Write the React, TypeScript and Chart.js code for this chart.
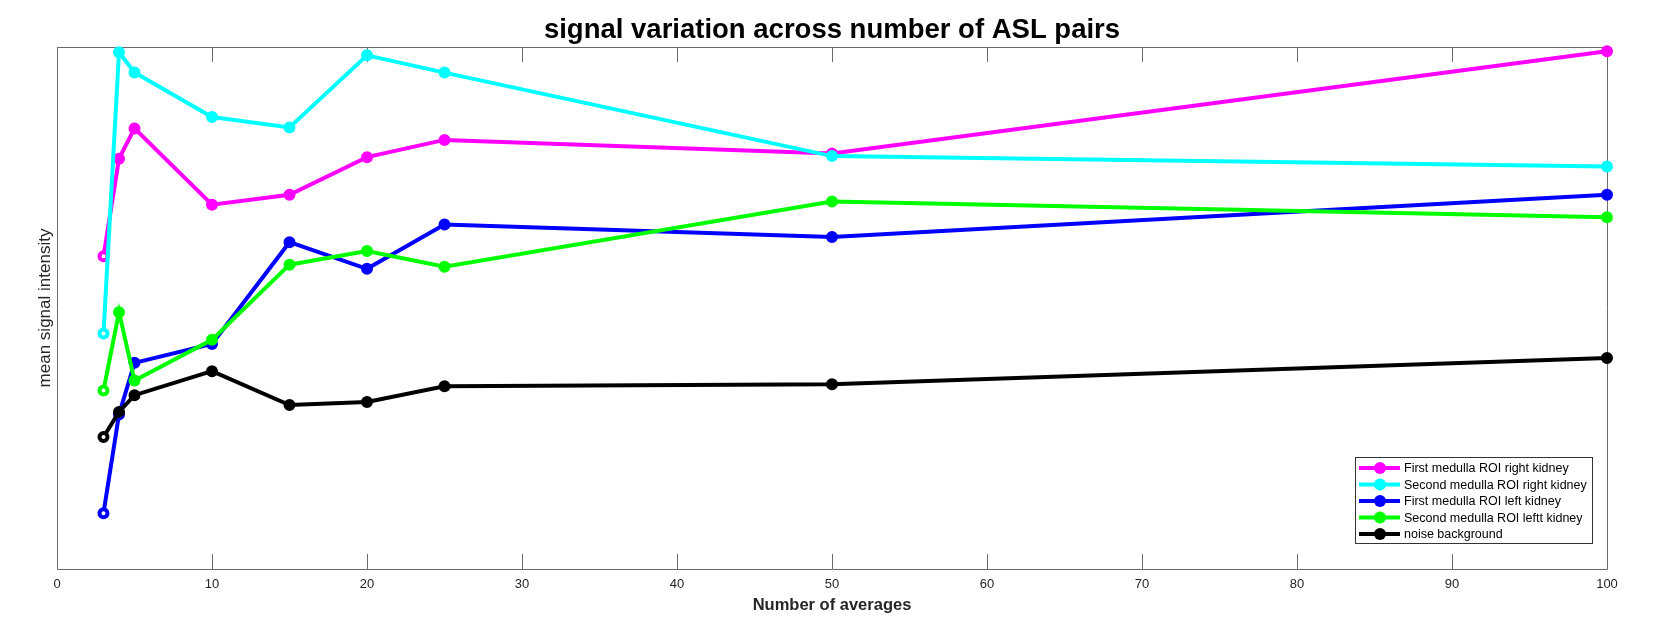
import { useEffect, useRef } from "react";
import { Chart, registerables } from "chart.js";

Chart.register(...registerables);

// ---- data ----
const averages = [3, 4, 5, 10, 15, 20, 25, 50, 100];
const firstMedullaRight = [59.9, 78.6, 84.4, 69.8, 71.7, 78.9, 82.2, 79.6, 99.2];
const secondMedullaRight = [45.1, 99.0, 95.1, 86.6, 84.6, 98.4, 95.1, 79.1, 77.1];
const firstMedullaLeft = [10.7, 29.6, 39.5, 43.1, 62.6, 57.5, 66.0, 63.6, 71.7];
const secondMedullaLeft = [34.2, 49.2, 36.1, 43.9, 58.3, 60.9, 57.9, 70.4, 67.4];
const noiseBackground = [25.3, 30.1, 33.3, 37.9, 31.4, 32.0, 35.0, 35.4, 40.4];
const seriesNames = [
  "First medulla ROI right kidney",
  "Second medulla ROI right kidney",
  "First medulla ROI left kidney",
  "Second medulla ROI leftt kidney",
  "noise background",
];
const seriesColors = ["#ff00ff", "#00ffff", "#0000ff", "#00ff00", "#000000"];
const xTicks = [0, 10, 20, 30, 40, 50, 60, 70, 80, 90, 100];

const chartTitle = "signal variation across number of ASL pairs";
const xTitle = "Number of averages";
const yTitle = "mean signal intensity";

const FONT = "'Liberation Sans', Arial, Helvetica, sans-serif";

const decorPlugin = {
  id: "decor",
  beforeDatasetsDraw(chart: any) {
    const { ctx, chartArea } = chart;
    const { left, right, top, bottom } = chartArea;
    const xs = chart.scales.x;
    ctx.save();
    ctx.strokeStyle = "#6a6a6a";
    ctx.lineWidth = 1;
    ctx.beginPath();
    ctx.rect(left + 0.5, top + 0.5, right - left, bottom - top);
    ctx.stroke();
    ctx.beginPath();
    for (const t of xTicks) {
      const px = Math.round(xs.getPixelForValue(t)) + 0.5;
      ctx.moveTo(px, bottom);
      ctx.lineTo(px, bottom - 15);
      ctx.moveTo(px, top);
      ctx.lineTo(px, top + 15);
    }
    ctx.stroke();
    ctx.restore();
  },
  afterDraw(chart: any) {
    const { ctx, chartArea } = chart;
    const { left, right, top, bottom } = chartArea;
    const cx = (left + right) / 2;
    ctx.save();
    // title
    ctx.fillStyle = "#000";
    ctx.textAlign = "center";
    ctx.textBaseline = "alphabetic";
    ctx.font = `bold 27.5px ${FONT}`;
    ctx.fillText(chartTitle, cx, 38);
    // x title
    ctx.font = `bold 16.5px ${FONT}`;
    ctx.fillStyle = "#262626";
    ctx.textBaseline = "middle";
    ctx.fillText(xTitle, cx, 605);
    // y title
    ctx.save();
    ctx.translate(45, (top + bottom) / 2);
    ctx.rotate(-Math.PI / 2);
    ctx.font = `17px ${FONT}`;
    ctx.fillText(yTitle, 0, 0);
    ctx.restore();
    // legend
    const bx = 1355, by = 457, bw = 237, bh = 86;
    ctx.fillStyle = "#fff";
    ctx.fillRect(bx, by, bw, bh);
    ctx.strokeStyle = "#333";
    ctx.lineWidth = 1;
    ctx.strokeRect(bx + 0.5, by + 0.5, bw, bh);
    ctx.font = `12.5px ${FONT}`;
    ctx.textAlign = "left";
    ctx.textBaseline = "middle";
    seriesNames.forEach((name, i) => {
      const y = by + 11 + i * 16.5;
      ctx.strokeStyle = seriesColors[i];
      ctx.lineWidth = 4;
      ctx.beginPath();
      ctx.moveTo(bx + 4, y);
      ctx.lineTo(bx + 45, y);
      ctx.stroke();
      ctx.fillStyle = seriesColors[i];
      ctx.beginPath();
      ctx.arc(bx + 25, y, 6, 0, Math.PI * 2);
      ctx.fill();
      ctx.fillStyle = "#000";
      ctx.fillText(name, bx + 49, y + 1);
    });
    ctx.restore();
  },
};

export default function App() {
  const canvasRef = useRef<HTMLCanvasElement | null>(null);

  useEffect(() => {
    document.body.style.margin = "0";
    const canvas = canvasRef.current;
    if (!canvas) return;
    const seriesValues = [
      firstMedullaRight,
      secondMedullaRight,
      firstMedullaLeft,
      secondMedullaLeft,
      noiseBackground,
    ];
    const datasets = seriesValues.map((vals, i) => ({
      label: seriesNames[i],
      data: averages.map((x, j) => ({ x, y: vals[j] })),
      borderColor: seriesColors[i],
      backgroundColor: seriesColors[i],
      pointBackgroundColor: averages.map((_, j) => (j === 0 ? "#ffffff" : seriesColors[i])),
      pointBorderColor: seriesColors[i],
      pointRadius: 4,
      pointBorderWidth: 4,
      borderWidth: 4,
      tension: 0,
      clip: false as any,
      order: seriesValues.length - i,
    }));
    const chart = new Chart(canvas, {
      type: "line",
      data: { datasets },
      plugins: [decorPlugin],
      options: {
        animation: false,
        responsive: false,
        devicePixelRatio: 1,
        layout: { padding: { left: 0, top: 47, right: 53, bottom: 0 } },
        plugins: {
          legend: { display: false },
          tooltip: { enabled: false },
          title: { display: false },
        },
        scales: {
          x: {
            type: "linear",
            min: 0,
            max: 100,
            afterFit: (s: any) => {
              s.height = 70;
            },
            afterBuildTicks: (s: any) => {
              s.ticks = xTicks.map((v) => ({ value: v }));
            },
            ticks: {
              color: "#262626",
              font: { family: FONT, size: 13 },
              padding: 8,
              maxRotation: 0,
            },
            grid: { display: false, drawTicks: false },
            border: { display: false },
          },
          y: {
            type: "linear",
            min: 0,
            max: 100,
            afterFit: (s: any) => {
              s.width = 57;
            },
            ticks: { display: false },
            grid: { display: false, drawTicks: false },
            border: { display: false },
          },
        },
      },
    });
    return () => chart.destroy();
  }, []);

  return (
    <div style={{ position: "absolute", left: 0, top: 0, width: 1660, height: 639, background: "#fff" }}>
      <canvas ref={canvasRef} width={1660} height={639} style={{ width: 1660, height: 639, display: "block" }} />
    </div>
  );
}
